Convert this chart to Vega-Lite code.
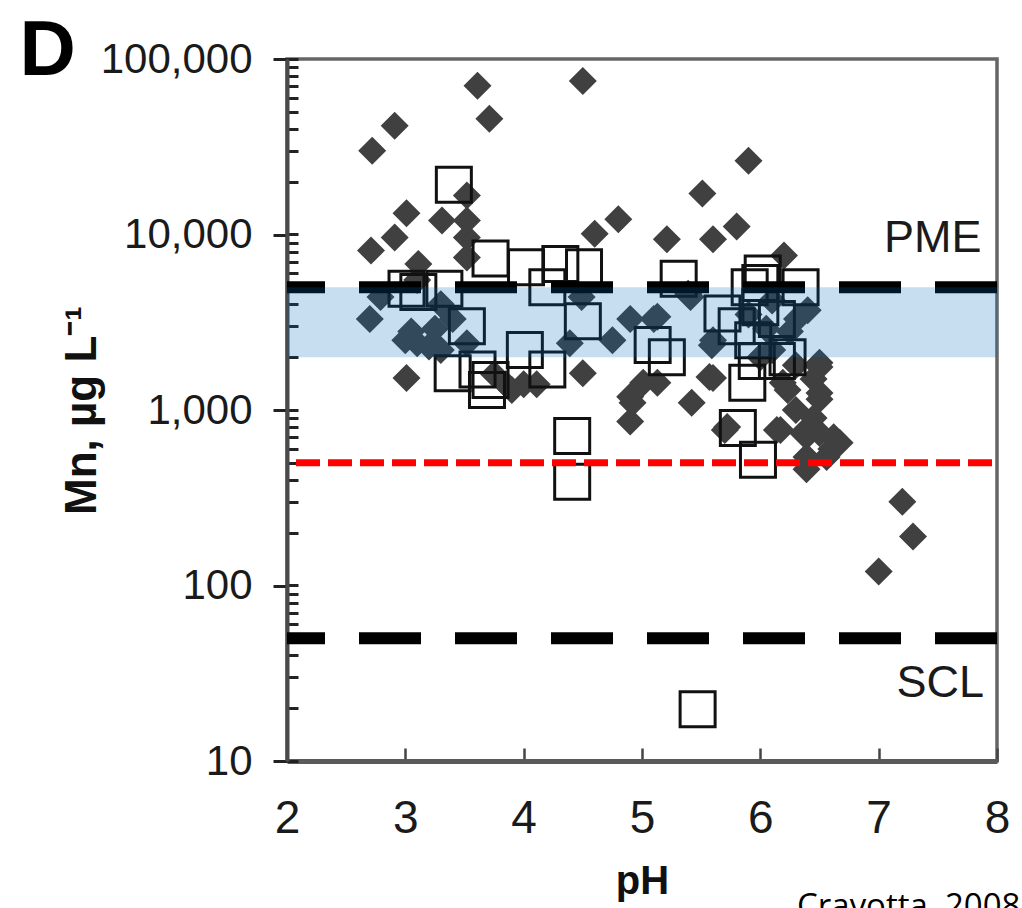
{
  "$schema": "https://vega.github.io/schema/vega-lite/v6.json",
  "width": 710,
  "height": 702,
  "autosize": {"type": "none"},
  "padding": {"left": 287, "top": 59, "right": 25, "bottom": 147},
  "background": "white",
  "config": {
    "view": {"stroke": "#666666", "strokeWidth": 3.5},
    "axis": {"grid": false, "labelFont": "Liberation Sans", "titleFont": "Liberation Sans", "labelColor": "#1a1a1a", "titleColor": "#111111", "labelFlush": false, "labelOverlap": false, "labelBound": false}
  },
  "datasets": {
    "diamonds": [
      {"pH": 2.72, "Mn": 30000}, {"pH": 2.91, "Mn": 41600}, {"pH": 3.61, "Mn": 70300}, {"pH": 3.71, "Mn": 45600}, {"pH": 4.50, "Mn": 75000},
      {"pH": 3.52, "Mn": 16700}, {"pH": 3.01, "Mn": 13200}, {"pH": 3.31, "Mn": 12000}, {"pH": 3.52, "Mn": 12000}, {"pH": 2.91, "Mn": 9600},
      {"pH": 3.52, "Mn": 9600}, {"pH": 2.71, "Mn": 8100}, {"pH": 3.52, "Mn": 7400}, {"pH": 3.11, "Mn": 6800},
      {"pH": 4.60, "Mn": 10100}, {"pH": 4.80, "Mn": 12200}, {"pH": 5.90, "Mn": 26300}, {"pH": 5.51, "Mn": 17100}, {"pH": 5.21, "Mn": 9400},
      {"pH": 5.60, "Mn": 9400}, {"pH": 5.80, "Mn": 11100}, {"pH": 6.20, "Mn": 7600},
      {"pH": 2.79, "Mn": 4400}, {"pH": 2.70, "Mn": 3300}, {"pH": 3.10, "Mn": 5500}, {"pH": 3.30, "Mn": 4000},
      {"pH": 3.00, "Mn": 2500}, {"pH": 3.10, "Mn": 2400}, {"pH": 3.20, "Mn": 2300}, {"pH": 3.30, "Mn": 2200}, {"pH": 3.05, "Mn": 2800}, {"pH": 3.25, "Mn": 2900},
      {"pH": 3.40, "Mn": 3300}, {"pH": 3.52, "Mn": 2400}, {"pH": 4.49, "Mn": 4400}, {"pH": 4.90, "Mn": 3300}, {"pH": 4.75, "Mn": 2500}, {"pH": 4.39, "Mn": 2400},
      {"pH": 3.75, "Mn": 1600}, {"pH": 3.85, "Mn": 1400}, {"pH": 3.90, "Mn": 1300}, {"pH": 4.00, "Mn": 1400}, {"pH": 4.11, "Mn": 1400},
      {"pH": 3.01, "Mn": 1520}, {"pH": 4.50, "Mn": 1620}, {"pH": 4.90, "Mn": 1190}, {"pH": 4.90, "Mn": 860}, {"pH": 5.01, "Mn": 1430},
      {"pH": 5.13, "Mn": 3400}, {"pH": 5.60, "Mn": 2500}, {"pH": 6.31, "Mn": 3300}, {"pH": 5.41, "Mn": 4400},
      {"pH": 5.13, "Mn": 1430}, {"pH": 5.60, "Mn": 1520}, {"pH": 4.92, "Mn": 1100}, {"pH": 5.42, "Mn": 1100}, {"pH": 5.72, "Mn": 800},
      {"pH": 6.50, "Mn": 1760}, {"pH": 6.50, "Mn": 1250}, {"pH": 6.23, "Mn": 1300}, {"pH": 6.14, "Mn": 770}, {"pH": 6.36, "Mn": 740},
      {"pH": 6.50, "Mn": 740}, {"pH": 6.67, "Mn": 650}, {"pH": 6.39, "Mn": 540},
      {"pH": 5.39, "Mn": 4600}, {"pH": 5.10, "Mn": 3300}, {"pH": 5.59, "Mn": 2340}, {"pH": 5.57, "Mn": 1540}, {"pH": 5.70, "Mn": 770},
      {"pH": 6.50, "Mn": 1860}, {"pH": 6.50, "Mn": 1150}, {"pH": 6.19, "Mn": 1430}, {"pH": 6.17, "Mn": 770}, {"pH": 6.39, "Mn": 710},
      {"pH": 6.56, "Mn": 540}, {"pH": 6.39, "Mn": 460}, {"pH": 6.60, "Mn": 600}, {"pH": 6.62, "Mn": 700}, {"pH": 6.45, "Mn": 900}, {"pH": 6.30, "Mn": 1000},
      {"pH": 6.40, "Mn": 3700}, {"pH": 6.25, "Mn": 2800}, {"pH": 6.10, "Mn": 2200}, {"pH": 6.00, "Mn": 2000}, {"pH": 6.30, "Mn": 1800}, {"pH": 6.45, "Mn": 1500},
      {"pH": 5.90, "Mn": 3500}, {"pH": 6.05, "Mn": 2900}, {"pH": 6.10, "Mn": 4200},
      {"pH": 7.20, "Mn": 300}, {"pH": 7.29, "Mn": 190}, {"pH": 7.00, "Mn": 120}
    ],
    "squares": [
      {"pH": 3.41, "Mn": 19200}, {"pH": 3.72, "Mn": 7300}, {"pH": 4.02, "Mn": 6500}, {"pH": 4.31, "Mn": 6800}, {"pH": 4.51, "Mn": 6500},
      {"pH": 4.20, "Mn": 5000}, {"pH": 3.01, "Mn": 4900}, {"pH": 3.11, "Mn": 4700}, {"pH": 3.33, "Mn": 4900},
      {"pH": 3.52, "Mn": 3000}, {"pH": 4.50, "Mn": 3200}, {"pH": 4.01, "Mn": 2200}, {"pH": 4.20, "Mn": 1700},
      {"pH": 3.40, "Mn": 1620}, {"pH": 3.61, "Mn": 1700}, {"pH": 3.72, "Mn": 1480}, {"pH": 3.69, "Mn": 1300},
      {"pH": 4.41, "Mn": 710}, {"pH": 4.41, "Mn": 390},
      {"pH": 5.31, "Mn": 5600}, {"pH": 5.09, "Mn": 2350}, {"pH": 5.21, "Mn": 2000},
      {"pH": 5.68, "Mn": 3550}, {"pH": 5.80, "Mn": 3000}, {"pH": 5.91, "Mn": 5000}, {"pH": 6.02, "Mn": 6000}, {"pH": 6.34, "Mn": 5000},
      {"pH": 5.94, "Mn": 2500}, {"pH": 6.14, "Mn": 1900}, {"pH": 5.97, "Mn": 1900}, {"pH": 5.89, "Mn": 1430}, {"pH": 5.81, "Mn": 790},
      {"pH": 5.98, "Mn": 520}, {"pH": 6.00, "Mn": 3850}, {"pH": 6.14, "Mn": 3300}, {"pH": 6.23, "Mn": 2000}, {"pH": 6.00, "Mn": 5300},
      {"pH": 5.47, "Mn": 19.7}
    ],
    "limits": [{"name": "PME", "Mn": 5000}, {"name": "SCL", "Mn": 50}],
    "redline": [{"Mn": 500}],
    "band": [{"Mn": 2000, "Mn2": 5000}],
    "labels": [{"label": "PME", "pH": 7.87, "Mn": 7950}, {"label": "SCL", "pH": 7.89, "Mn": 23.2}],
    "credit": [{"label": "Cravotta, 2008", "pH": 6.31, "Mn": 1.29}],
    "panel": [{"label": "D", "pH": -0.26, "Mn": 81000}]
  },
  "layer": [
    {
      "data": {"name": "diamonds"},
      "mark": {"type": "point", "shape": "diamond", "filled": true, "size": 784, "color": "#404040", "opacity": 1, "strokeWidth": 0},
      "encoding": {
        "x": {"field": "pH", "type": "quantitative", "scale": {"domain": [2, 8], "nice": false, "zero": false},
          "axis": {"values": [2, 3, 4, 5, 6, 7, 8], "format": "d", "title": "pH", "titleFontSize": 40, "titleFontWeight": "bold", "titleBaseline": "alphabetic", "titleY": 132,
            "labelFontSize": 46, "labelPadding": 48, "tickSize": -13, "tickWidth": 2.5, "tickColor": "#444444", "domainColor": "#5a5a5a", "domainWidth": 5}},
        "y": {"field": "Mn", "type": "quantitative", "scale": {"type": "log", "domain": [10, 100000], "nice": false},
          "axis": {
            "values": [10, 10.001, 20, 30, 40, 50, 60, 70, 80, 90, 100, 100.01, 200, 300, 400, 500, 600, 700, 800, 900, 1000, 1000.1, 2000, 3000, 4000, 5000, 6000, 7000, 8000, 9000, 10000, 10001, 20000, 30000, 40000, 50000, 60000, 70000, 80000, 90000, 100000, 99990],
            "labelExpr": "indexof([10,100,1000,10000,100000], datum.value) >= 0 ? format(datum.value, ',') : ''",
            "tickSize": {"condition": {"test": "indexof([10,100,1000,10000,100000], datum.value) >= 0", "value": 14}, "value": -11},
            "tickWidth": 3, "tickColor": "#222222", "labelPadding": 21, "labelFontSize": 42, "labelBaseline": "middle",
            "domainColor": "#4a4a4a", "domainWidth": 4,
            "title": "Mn, µg L⁻¹", "titleFontSize": 44, "titleFontWeight": "bold", "titleAngle": -90, "titleX": -192, "titleY": 351, "titleAlign": "center", "titleBaseline": "alphabetic"}}
      }
    },
    {
      "data": {"name": "squares"},
      "mark": {"type": "point", "shape": "square", "filled": false, "size": 1225, "stroke": "#111111", "strokeWidth": 3, "opacity": 1},
      "encoding": {
        "x": {"field": "pH", "type": "quantitative"},
        "y": {"field": "Mn", "type": "quantitative"}
      }
    },
    {
      "data": {"name": "limits"},
      "mark": {"type": "rule", "color": "black", "strokeWidth": 12, "strokeDash": [62, 34]},
      "encoding": {"y": {"field": "Mn", "type": "quantitative"}}
    },
    {
      "data": {"name": "redline"},
      "mark": {"type": "rule", "color": "#ff0000", "strokeWidth": 7, "strokeDash": [24, 8], "strokeDashOffset": 27},
      "encoding": {"y": {"field": "Mn", "type": "quantitative"}}
    },
    {
      "data": {"name": "band"},
      "mark": {"type": "rect", "color": "#0068bc", "opacity": 0.22},
      "encoding": {"y": {"field": "Mn", "type": "quantitative"}, "y2": {"field": "Mn2"}}
    },
    {
      "data": {"name": "labels"},
      "mark": {"type": "text", "font": "Liberation Sans", "fontSize": 45, "align": "right", "baseline": "alphabetic", "color": "#1a1a1a"},
      "encoding": {"x": {"field": "pH", "type": "quantitative"}, "y": {"field": "Mn", "type": "quantitative"}, "text": {"field": "label"}}
    },
    {
      "data": {"name": "credit"},
      "mark": {"type": "text", "font": "Open Sans", "fontSize": 33, "align": "left", "baseline": "alphabetic", "color": "black", "clip": false},
      "encoding": {"x": {"field": "pH", "type": "quantitative"}, "y": {"field": "Mn", "type": "quantitative"}, "text": {"field": "label"}}
    },
    {
      "data": {"name": "panel"},
      "mark": {"type": "text", "font": "Liberation Sans", "fontSize": 78, "fontWeight": "bold", "align": "left", "baseline": "alphabetic", "color": "black", "clip": false},
      "encoding": {"x": {"field": "pH", "type": "quantitative"}, "y": {"field": "Mn", "type": "quantitative"}, "text": {"field": "label"}}
    }
  ]
}
